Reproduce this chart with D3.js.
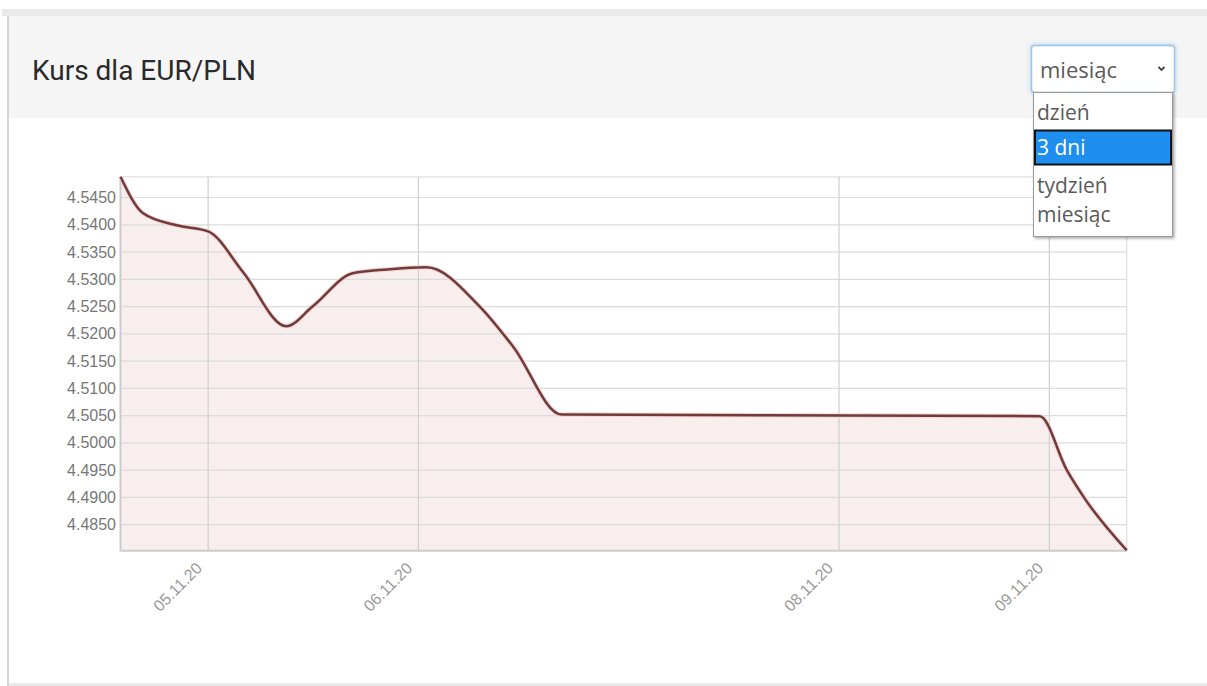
<!DOCTYPE html>
<html>
<head>
<meta charset="utf-8">
<script src="https://cdn.jsdelivr.net/npm/d3@7"></script>
<style>
  html, body { margin: 0; padding: 0; background: #fff; }
  svg { display: block; }
</style>
</head>
<body>
<svg id="chart" width="1207" height="686"></svg>
<script>
// ---- data ----
const times = [
  "2020-11-04T14:00", "2020-11-04T16:35", "2020-11-04T20:25", "2020-11-05T00:00",
  "2020-11-05T04:00", "2020-11-05T08:55", "2020-11-05T11:55", "2020-11-05T16:30",
  "2020-11-05T20:25", "2020-11-06T00:55", "2020-11-06T07:00", "2020-11-06T10:50",
  "2020-11-06T16:20", "2020-11-08T22:55", "2020-11-09T02:00", "2020-11-09T04:10",
  "2020-11-09T08:50"
];
const rates = [
  4.5488, 4.5421, 4.5399, 4.5388,
  4.5313, 4.5214, 4.5250, 4.5311,
  4.5318, 4.5322, 4.5250, 4.5176,
  4.5052, 4.5049, 4.4950, 4.4895,
  4.4803
];
const xTickDates = ["2020-11-05", "2020-11-06", "2020-11-08", "2020-11-09"];
const xTickLabels = ["05.11.20", "06.11.20", "08.11.20", "09.11.20"];
const yTickValues = [4.5450, 4.5400, 4.5350, 4.5300, 4.5250, 4.5200, 4.5150,
                     4.5100, 4.5050, 4.5000, 4.4950, 4.4900, 4.4850];
const title = "Kurs dla EUR/PLN";
const selectedOption = "miesiąc";
const options = ["dzień", "3 dni", "tydzień", "miesiąc"];
const highlightedOption = "3 dni";

// ---- layout ----
const svg = d3.select("#chart");
const parseT = d3.utcParse("%Y-%m-%dT%H:%M");
const parseD = d3.utcParse("%Y-%m-%d");
const data = times.map((t, i) => ({ t: parseT(t), v: rates[i] }));

const plot = { left: 120.5, right: 1126.7, top: 176.8, bottom: 550.3 };

// card / panel background
svg.append("rect").attr("x", 2).attr("y", 9).attr("width", 1207).attr("height", 677).attr("fill", "#e9e9e9");
svg.append("rect").attr("x", 0).attr("y", 16).attr("width", 7).attr("height", 670).attr("fill", "#fff");
svg.append("rect").attr("x", 7).attr("y", 16).attr("width", 2).attr("height", 670).attr("fill", "#d6d6d6");
svg.append("rect").attr("x", 9).attr("y", 16).attr("width", 1207).attr("height", 102).attr("fill", "#f5f5f5");
svg.append("rect").attr("x", 9).attr("y", 118).attr("width", 1207).attr("height", 565).attr("fill", "#fff");
svg.append("text").attr("x", 32).attr("y", 80)
  .attr("font-family", "Roboto, sans-serif").attr("font-size", 28)
  .attr("fill", "#2a2a2a").text(title);

const x = d3.scaleUtc().domain(d3.extent(data, d => d.t)).range([plot.left, plot.right]);
const y = d3.scaleLinear().domain(d3.extent(data, d => d.v)).range([plot.bottom, plot.top]);

const g = svg.append("g");

// area fill
const area = d3.area().x(d => x(d.t)).y0(plot.bottom).y1(d => y(d.v)).curve(d3.curveMonotoneX);
g.append("path").datum(data).attr("d", area).attr("fill", "#f9eeee");

// horizontal grid
g.append("g").selectAll("line").data(yTickValues).join("line")
  .attr("x1", plot.left).attr("x2", plot.right)
  .attr("y1", d => y(d)).attr("y2", d => y(d))
  .attr("stroke", "#dcdcdc").attr("stroke-width", 1.2);
// top/right border lines
g.append("line").attr("x1", plot.left).attr("x2", plot.right).attr("y1", plot.top).attr("y2", plot.top)
  .attr("stroke", "#e0e0e0").attr("stroke-width", 1.2);
g.append("line").attr("x1", plot.right).attr("x2", plot.right).attr("y1", plot.top).attr("y2", plot.bottom)
  .attr("stroke", "#dcdcdc").attr("stroke-width", 1.2);

// vertical grid
const xTicks = xTickDates.map(parseD);
g.append("g").selectAll("line").data(xTicks).join("line")
  .attr("x1", d => x(d)).attr("x2", d => x(d))
  .attr("y1", plot.top).attr("y2", plot.bottom)
  .attr("stroke", "#cfcfcf").attr("stroke-width", 1.2);

// axes lines
g.append("line").attr("x1", plot.left).attr("x2", plot.left).attr("y1", plot.top).attr("y2", plot.bottom + 1)
  .attr("stroke", "#cccccc").attr("stroke-width", 2);
g.append("line").attr("x1", plot.left).attr("x2", plot.right).attr("y1", plot.bottom + 0.5).attr("y2", plot.bottom + 0.5)
  .attr("stroke", "#cccccc").attr("stroke-width", 2);

// line
const line = d3.line().x(d => x(d.t)).y(d => y(d.v)).curve(d3.curveMonotoneX);
g.append("path").datum(data).attr("d", line)
  .attr("fill", "none").attr("stroke", "#f0d6d6").attr("stroke-width", 4.5);
g.append("path").datum(data).attr("d", line)
  .attr("fill", "none").attr("stroke", "#733a3a").attr("stroke-width", 2.5);

// y labels
g.append("g").selectAll("text").data(yTickValues).join("text")
  .attr("x", 116).attr("y", d => y(d)).attr("dy", "0.35em")
  .attr("text-anchor", "end")
  .attr("font-family", "'Liberation Sans', Arial, sans-serif").attr("font-size", 16)
  .attr("fill", "#777").text(d => d.toFixed(4));

// x labels
g.append("g").selectAll("text").data(xTicks).join("text")
  .attr("transform", d => `translate(${x(d) - 9},${plot.bottom + 15}) rotate(-45)`)
  .attr("dy", "0.35em")
  .attr("text-anchor", "end")
  .attr("font-family", "'Liberation Sans', Arial, sans-serif").attr("font-size", 16)
  .attr("fill", "#999").text((d, i) => xTickLabels[i]);

// ---- dropdown ----
const defs = svg.append("defs");
const f = defs.append("filter").attr("id", "sh").attr("x", "-10%").attr("y", "-10%").attr("width", "130%").attr("height", "130%");
f.append("feDropShadow").attr("dx", 1.5).attr("dy", 1.5).attr("stdDeviation", 1.5).attr("flood-color", "#000").attr("flood-opacity", 0.35);
const fg = defs.append("filter").attr("id", "glow").attr("x", "-10%").attr("y", "-20%").attr("width", "120%").attr("height", "140%");
fg.append("feDropShadow").attr("dx", 0).attr("dy", 0).attr("stdDeviation", 2).attr("flood-color", "#66afe9").attr("flood-opacity", 0.6);

const dd = svg.append("g");
dd.append("rect").attr("x", 1031.5).attr("y", 45.5).attr("width", 143).attr("height", 47).attr("rx", 3)
  .attr("fill", "#fff").attr("stroke", "#9cc6ea").attr("stroke-width", 1.5).attr("filter", "url(#glow)");
dd.append("text").attr("x", 1040).attr("y", 78)
  .attr("font-family", "'Open Sans', sans-serif").attr("font-size", 22)
  .attr("fill", "#5a5a5a").text(selectedOption);
dd.append("path").attr("d", "M1158.5,67 L1161.5,70 L1164.5,67")
  .attr("fill", "none").attr("stroke", "#444").attr("stroke-width", 1.8);

const list = svg.append("g");
list.append("rect").attr("x", 1033.5).attr("y", 92.5).attr("width", 139).attr("height", 144)
  .attr("fill", "#fff").attr("stroke", "#9a9a9a").attr("stroke-width", 1).attr("filter", "url(#sh)");
const rowBase = [119.5, 155, 192.5, 221.5];
const hiIdx = options.indexOf(highlightedOption);
list.append("rect").attr("x", 1035).attr("y", 130.5).attr("width", 136).attr("height", 34)
  .attr("fill", "#1f8ef1").attr("stroke", "#111").attr("stroke-width", 2);
list.selectAll("text.opt").data(options).join("text").attr("class", "opt")
  .attr("x", 1037).attr("y", (d, i) => rowBase[i])
  .attr("font-family", "'Open Sans', sans-serif").attr("font-size", 21)
  .attr("fill", (d, i) => i === hiIdx ? "#fff" : "#5a5a5a").text(d => d);
</script>
</body>
</html>
